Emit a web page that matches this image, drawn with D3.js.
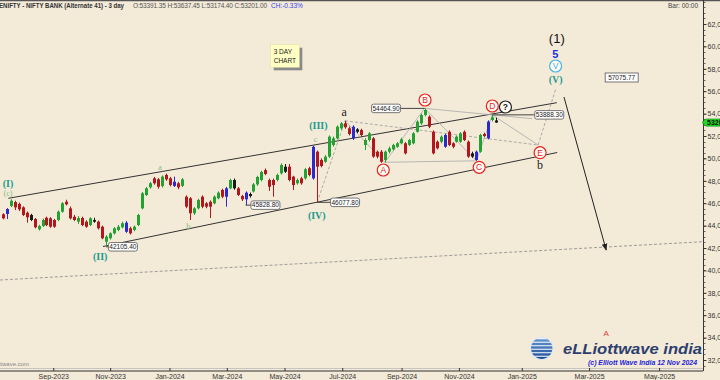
<!DOCTYPE html>
<html>
<head>
<meta charset="utf-8">
<script src="https://cdn.jsdelivr.net/npm/d3@7"></script>
<style>
  body { margin: 0; background: #f3ead8; }
  svg { display: block; font-family: "Liberation Sans", Arial, sans-serif; }
</style>
</head>
<body>
<div id="chart"></div>
<script>
// 3-day bars (index 0 = mid Jul 2023)
const opens = [45010,45040,45750,46100,45930,45630,45150,44950,44590,43670,43960,44700,44650,44500,44500,45240,46130,45540,44790,44350,
  44680,44350,44050,44500,44350,43900,42560,42870,43310,43610,43850,44260,43760,43610,44050,45540,46730,47420,48220,48130,
  47530,48520,48220,47540,47780,47540,46580,46440,45100,45540,46580,45990,46130,45990,46440,47180,46580,47330,48070,47330,
  46640,46350,46820,47050,47680,48070,48960,48070,48070,48070,48670,49260,49260,48370,47780,48220,48220,49120,48220,50600,
  49860,49700,50150,51200,51790,52690,53130,52690,51790,52600,52540,51200,51640,51790,50600,50600,49860,50600,50810,51040,
  51350,51350,51200,51350,52380,53130,53870,53720,52380,51490,51490,51040,52380,51350,51490,51490,52380,51490,50450,49860,
  50600,52180,51790,53430,53390];
const highs = [45100,45560,46350,46220,46050,45720,45260,45050,44680,44080,44620,44800,44760,44600,45350,46100,46310,45700,44950,44850,
  44800,44480,44750,44700,44450,44000,43150,43400,43860,44050,44350,44400,43900,44000,45050,47000,47450,47900,48350,48250,
  48480,48640,48350,48370,47900,48250,46700,46550,45650,46400,46700,46100,46250,46700,47050,47300,47450,48180,48200,47450,
  46750,47050,46950,47800,48450,48900,49100,48200,48200,48650,49550,49500,49500,48450,48200,48350,49150,49250,51133,50700,
  50000,50300,52050,51950,52950,53250,53357,52850,52950,52700,52650,51800,52350,51900,50700,50750,50700,51050,51300,51450,
  51850,51450,51750,52350,53400,54000,54465,53850,52500,51600,52050,52200,52500,51450,52050,52350,52500,51600,50600,50700,
  52200,52300,53400,53888,53637];
const lows = [44560,44590,45650,45390,45300,44850,44260,44400,43750,43560,43880,43950,43800,43800,44400,45150,45800,44550,44400,44150,
  43950,43800,43950,44250,43650,42780,42105,42750,43200,43500,43750,43350,43200,43500,43950,45450,46650,47300,47650,47300,
  47400,48000,47500,47450,47250,47450,45550,44500,44950,45450,45550,45550,44680,45900,46350,46450,45690,47250,47200,46650,
  46200,45829,46500,46950,47550,47950,48500,47100,46580,47950,48550,48700,47950,47180,47650,47650,48100,48400,48100,46078,
  49200,49600,50050,51050,51700,52550,52650,52050,51650,52250,51950,50750,51500,50050,50000,49600,49654,50450,50700,50950,
  51250,50350,51100,51250,52300,53000,53750,52700,50350,50800,51350,50950,51100,50900,51400,51400,51550,50050,50050,49787,
  50500,51900,51700,53300,53174];
const closes = [44650,45480,46220,45630,45450,44950,44740,44500,43850,43960,44500,44050,43900,43900,45240,45990,45900,44650,44500,44680,
  44050,43900,44650,44350,43760,42870,43010,43310,43760,43900,44210,43450,43310,43900,44950,46880,47330,47780,47780,47470,
  48370,48130,47630,47920,47420,48130,45690,45100,45540,46290,45690,45690,45690,46580,46940,46580,47330,48070,47330,46730,
  46350,46940,46640,47680,48340,48790,48610,47470,47620,48520,49410,48810,48070,47620,48070,47780,49030,48520,51040,49260,
  49320,50150,51940,51790,52830,53130,52780,52180,52830,52380,52090,51640,52240,50160,50160,49700,50600,50900,51200,51350,
  51700,50450,51640,52240,53280,53870,54320,52830,50450,50900,51940,52090,51200,51040,51940,52240,51640,50160,50160,50600,
  52090,52000,53280,53670,53201];
const blueBars = [1, 31, 43, 56, 61, 78, 88, 111, 119, 122];
const blackBars = [7, 23, 58, 62, 71, 89, 118, 124];

// month ticks (fractional bar position) and labels
const monthBars = [12.7, 27.0, 41.9, 56.3, 70.8, 85.3, 100.2, 114.6, 130.4, 147.3, 164.9];
const monthLabels = ["Sep-2023", "Nov-2023", "Jan-2024", "Mar-2024", "May-2024", "Jul-2024",
  "Sep-2024", "Nov-2024", "Jan-2025", "Mar-2025", "May-2025"];
const priceTicks = d3.range(32000, 62001, 2000);

// marked price levels
const levelValues = [42105.40, 45828.80, 46077.80, 54464.90, 53888.30];
const levelBars = [26, 61, 79, 106, 123];
const lastPrice = 53201;

const W = 720, H = 380, axisX = 703, axisY = 371;

const x = d3.scaleLinear().domain([0, opens.length - 1]).range([2.7, 496.3]);
const y = d3.scaleLinear().domain([32000, 62000]).range([360, 24]);
const P = ([b, p]) => [x(b), y(p)];

const svg = d3.select("#chart").append("svg").attr("width", W).attr("height", H);
svg.append("rect").attr("width", W).attr("height", H).attr("fill", "#f3ead8");

const defs = svg.append("defs");
defs.append("marker").attr("id", "arr").attr("viewBox", "0 0 10 10")
  .attr("refX", 9).attr("refY", 5).attr("markerWidth", 7).attr("markerHeight", 7)
  .attr("orient", "auto")
  .append("path").attr("d", "M0,1 L10,5 L0,9 Z").attr("fill", "#222");

// header
svg.append("line").attr("x1", 0).attr("x2", W).attr("y1", 0.5).attr("y2", 0.5)
  .attr("stroke", "#555").attr("stroke-width", 1.5);
const hdr = svg.append("g").attr("font-size", 6.5);
hdr.append("text").attr("x", -1).attr("y", 7.5).attr("font-weight", "bold").attr("fill", "#333")
  .attr("textLength", 125).attr("lengthAdjust", "spacingAndGlyphs")
  .text("ENIFTY - NIFTY BANK (Alternate 41) - 3 day");
hdr.append("text").attr("x", 133).attr("y", 7.5).attr("fill", "#555")
  .attr("textLength", 134).text("O:53391.35  H:53637.45  L:53174.40  C:53201.00");
hdr.append("text").attr("x", 271).attr("y", 7.5).attr("fill", "#3344ee").text("CH:-0.33%");
hdr.append("text").attr("x", 698).attr("y", 7.5).attr("text-anchor", "end").attr("fill", "#444").text("Bar: 00:00");

// faint baseline
const thin = (pts, stroke, w, dash) => svg.append("path")
  .attr("d", d3.line()(pts.map(P))).attr("fill", "none")
  .attr("stroke", stroke).attr("stroke-width", w).attr("stroke-dasharray", dash || null);

thin([[-0.7, 39142], [176, 42562]], "#888", 0.8, "3,2");

// channel lines
thin([[1.41, 46437], [139.2, 54973]], "#333", 1);
thin([[25.2, 42133], [139.3, 50526]], "#333", 1);

// wave path lines
thin([[86, 53357], [96, 49654]], "#aaa", 0.8);
thin([[96, 49654], [106, 54465]], "#aaa", 0.8);
thin([[106, 54465], [119, 49787]], "#aaa", 0.8);
thin([[119, 49787], [123, 53888]], "#aaa", 0.8);
thin([[123, 53888], [134.5, 51196]], "#aaa", 0.8);
thin([[96, 49654], [119, 49787]], "#aaa", 0.8);
thin([[106, 54465], [133, 53550]], "#aaa", 0.8);
thin([[79, 46078], [86, 53357]], "#999", 0.8, "3,2");
thin([[86, 53357], [134.5, 51196]], "#999", 0.8, "3,2");
thin([[134.5, 51196], [139, 56285]], "#999", 0.8, "3,2");

// projection arrow
svg.append("path").attr("d", d3.line()([[141.0, 55482], [151.6, 41821]].map(P)))
  .attr("stroke", "#222").attr("stroke-width", 1).attr("marker-end", "url(#arr)");

// candles
const colorOf = i => blueBars.includes(i) ? "#2a2ad0" : blackBars.includes(i) ? "#1a1a1a"
  : closes[i] >= opens[i] ? "#23a234" : "#b3171c";
const candles = svg.append("g").selectAll("g").data(d3.range(opens.length)).join("g");
candles.append("line")
  .attr("x1", i => Math.round(x(i)) + 0.5).attr("x2", i => Math.round(x(i)) + 0.5)
  .attr("y1", i => y(highs[i])).attr("y2", i => y(lows[i]))
  .attr("stroke", colorOf).attr("stroke-width", 1);
candles.append("rect")
  .attr("x", i => Math.round(x(i)) - 1).attr("width", 3)
  .attr("y", i => y(Math.max(opens[i], closes[i])))
  .attr("height", i => Math.max(1, Math.abs(y(opens[i]) - y(closes[i]))))
  .attr("fill", colorOf);

// level boxes
const labelBars = [30.2, 66, 86, 96.3, 137.3];
levelValues.forEach((v, k) => {
  const cx = x(labelBars[k]), cy = y(v), px = x(levelBars[k]);
  const bw = 29, bh = 8.5;
  const edge = cx > px ? cx - bw / 2 : cx + bw / 2;
  svg.append("line").attr("x1", px).attr("x2", edge).attr("y1", cy).attr("y2", cy)
    .attr("stroke", "#444").attr("stroke-width", 1);
  svg.append("rect").attr("x", cx - bw / 2).attr("y", cy - bh / 2).attr("width", bw).attr("height", bh)
    .attr("rx", 2).attr("fill", "#fff").attr("stroke", "#555").attr("stroke-width", 0.8);
  svg.append("text").attr("x", cx).attr("y", cy).attr("dy", "0.35em").attr("text-anchor", "middle")
    .attr("font-size", 6.5).attr("fill", "#222").text(v.toFixed(2));
});
// target box
{
  const cx = x(155.5), cy = y(57223);
  svg.append("rect").attr("x", cx - 16.5).attr("y", cy - 4.5).attr("width", 33).attr("height", 9)
    .attr("fill", "#fff").attr("stroke", "#555").attr("stroke-width", 0.8);
  svg.append("text").attr("x", cx).attr("y", cy).attr("dy", "0.35em").attr("text-anchor", "middle")
    .attr("font-size", 6.5).attr("fill", "#222").text("57075.77");
}

// wave labels
const label = (b, p, txt, o) => svg.append("text").attr("x", x(b)).attr("y", y(p))
  .attr("text-anchor", "middle").attr("dominant-baseline", "central")
  .attr("font-family", o.serif ? "Liberation Serif, serif" : null)
  .attr("font-weight", o.bold ? "bold" : null)
  .attr("font-size", o.size).attr("fill", o.color).text(txt);

const teal = "#1f9c8e", lightGreen = "#86bd86";
label(1.33, 47803, "(I)", { serif: 1, bold: 1, size: 10, color: teal });
label(1.33, 46910, "(c)", { serif: 1, size: 8, color: lightGreen });
label(24.5, 41285, "(II)", { serif: 1, bold: 1, size: 10, color: teal });
label(39.5, 49205, "a", { serif: 1, size: 8, color: lightGreen });
label(46.6, 43901, "b", { serif: 1, size: 8, color: lightGreen });
label(78.6, 51643, "c", { serif: 1, size: 8, color: lightGreen });
label(79.3, 52982, "(III)", { serif: 1, bold: 1, size: 10, color: teal });
label(78.9, 44946, "(IV)", { serif: 1, bold: 1, size: 10, color: teal });
label(85.8, 54169, "a", { serif: 1, size: 12, color: "#222" });
label(135, 49410, "b", { serif: 1, size: 12, color: "#222" });
label(139.2, 60700, "(1)", { size: 13, color: "#111" });
label(138.8, 59330, "5", { bold: 1, size: 11, color: "#1c31e0" });
label(138.9, 57089, "(V)", { serif: 1, bold: 1, size: 10, color: teal });
label(151.6, 34383, "A", { size: 8, color: "#e83a3a" });

const circled = (b, p, txt, color, bold) => {
  svg.append("circle").attr("cx", x(b)).attr("cy", y(p)).attr("r", 6)
    .attr("fill", "#fffaf2").attr("stroke", color).attr("stroke-width", 1.2);
  label(b, p, txt, { size: 8.5, color: color, bold: bold });
};
circled(95.6, 48964, "A", "#e8231f");
circled(106.1, 55214, "B", "#e8231f");
circled(119.7, 49205, "C", "#e8231f");
circled(123, 54678, "D", "#e8231f");
circled(135, 50509, "E", "#e8231f");
circled(126.3, 54589, "?", "#222", 1);
circled(138.9, 58250, "V", "#45b4e6");

// note
const note = svg.append("g").attr("transform", "translate(270.7,44.7)");
note.append("rect").attr("x", 3).attr("y", 3).attr("width", 28.6).attr("height", 22.6).attr("fill", "#8a8a8a");
note.append("rect").attr("width", 28.6).attr("height", 22.6).attr("fill", "#ffffc4").attr("stroke", "#e6e0a0").attr("stroke-width", 0.5);
note.append("text").attr("x", 3).attr("y", 9.5).attr("font-size", 6.5).attr("fill", "#222").text("3 DAY");
note.append("text").attr("x", 3).attr("y", 18).attr("font-size", 6.5).attr("fill", "#222").text("CHART");

// logo
const lg = svg.append("g").attr("transform", "translate(541.7,348.3)");
defs.append("clipPath").attr("id", "globe").append("circle").attr("r", 10.7);
lg.append("circle").attr("r", 11.5).attr("fill", "#d9e8f5");
const gg = lg.append("g").attr("clip-path", "url(#globe)");
gg.append("circle").attr("r", 10.7).attr("fill", "#eef4fb");
[-9, -5.5, -2, 1.5, 5, 8.5].forEach((s, k) => gg.append("rect")
  .attr("x", -12).attr("y", s).attr("width", 24).attr("height", 2.4)
  .attr("fill", d3.interpolateRgb("#5f8fc8", "#1e4f99")(k / 5)));
svg.append("text").attr("x", 563).attr("y", 353.5).attr("font-size", 15).attr("font-weight", "bold")
  .attr("font-style", "italic").attr("fill", "#2d3f6e").attr("textLength", 139)
  .attr("lengthAdjust", "spacingAndGlyphs").text("eLLiottwave india");
svg.append("text").attr("x", 588).attr("y", 365).attr("font-size", 7.5).attr("font-weight", "bold")
  .attr("font-style", "italic").attr("fill", "#1f1fd6").attr("textLength", 109)
  .attr("lengthAdjust", "spacingAndGlyphs").text("(c) Elliott Wave India 12 Nov 2024");
svg.append("text").attr("x", 29).attr("y", 366).attr("text-anchor", "end").attr("font-size", 6)
  .attr("fill", "#888").text("elliottwave.com");

// x axis
svg.append("line").attr("x1", 0).attr("x2", axisX).attr("y1", 368.5).attr("y2", 368.5)
  .attr("stroke", "#bbb").attr("stroke-width", 0.8);
svg.append("line").attr("x1", 0).attr("x2", axisX).attr("y1", axisY).attr("y2", axisY)
  .attr("stroke", "#333").attr("stroke-width", 1);
const xa = svg.append("g").attr("transform", `translate(0,${axisY})`)
  .call(d3.axisBottom(x).tickValues(monthBars).tickFormat((d, i) => monthLabels[i])
    .tickSizeInner(-3).tickSizeOuter(0).tickPadding(3));
xa.select(".domain").remove();
xa.selectAll("line").attr("stroke", "#333");
xa.selectAll("text").attr("font-size", 7).attr("fill", "#333")
  .attr("font-family", "Liberation Sans, Arial, sans-serif");

// y axis
svg.append("line").attr("x1", axisX + 0.5).attr("x2", axisX + 0.5).attr("y1", 0).attr("y2", axisY)
  .attr("stroke", "#333").attr("stroke-width", 1);
svg.append("g").selectAll("line").data(d3.range(31500, 64001, 500)).join("line")
  .attr("x1", axisX).attr("x2", axisX + 2.5).attr("y1", d => Math.round(y(d)) + 0.5).attr("y2", d => Math.round(y(d)) + 0.5)
  .attr("stroke", "#444").attr("stroke-width", 0.8);
const ya = svg.append("g").attr("transform", `translate(${axisX},0)`)
  .call(d3.axisRight(y).tickValues(priceTicks).tickSize(3.5).tickPadding(1));
ya.select(".domain").remove();
ya.selectAll("line").attr("stroke", "#333");
ya.selectAll("text").attr("font-size", 7).attr("fill", "#333")
  .attr("font-family", "Liberation Sans, Arial, sans-serif");

// last price tag
{
  const ty = y(lastPrice);
  svg.append("path").attr("d", `M${axisX - 1},${ty} L${axisX + 3},${ty - 3.6} L${W},${ty - 3.6} L${W},${ty + 3.6} L${axisX + 3},${ty + 3.6} Z`)
    .attr("fill", "#22d822").attr("stroke", "#0a8a0a").attr("stroke-width", 0.6);
  svg.append("text").attr("x", axisX + 4).attr("y", ty).attr("dy", "0.35em").attr("font-size", 7)
    .attr("font-weight", "bold").attr("fill", "#111").text(String(lastPrice));
}
</script>
</body>
</html>
